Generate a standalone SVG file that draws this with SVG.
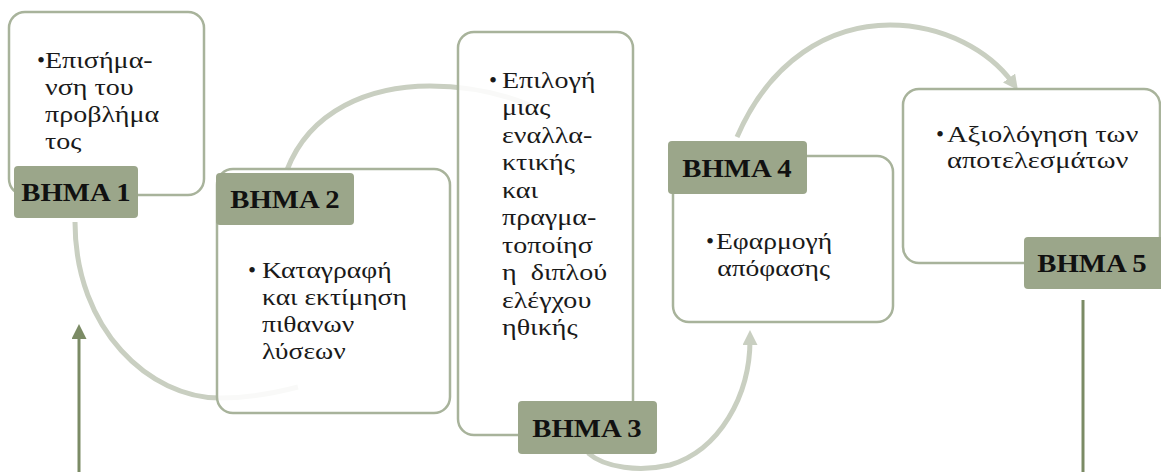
<svg xmlns="http://www.w3.org/2000/svg" width="1161" height="472" viewBox="0 0 1161 472">
<defs>
<style>
.box{fill:#ffffff;fill-opacity:0.88;stroke:#a8b39b;stroke-width:2.5}
.lbl{fill:#9ba68a}
.lt{font-family:'Liberation Serif','DejaVu Serif',serif;font-weight:bold;font-size:25px;fill:#111;text-anchor:middle}
.bt{font-family:'Liberation Serif','DejaVu Serif',serif;font-size:23px;fill:#1a1a1a}
.arc{fill:none;stroke:#c9cfc1;stroke-width:5}
.fb{fill:none;stroke:#7b8b65;stroke-width:3}
</style>
<marker id="ah" markerWidth="3" markerHeight="3" refX="1" refY="1.5" orient="auto" markerUnits="strokeWidth">
<path d="M0,0 L3,1.5 L0,3 Z" fill="#c9cfc1"/>
</marker>
<marker id="fa" markerWidth="5" markerHeight="5" refX="1" refY="2.5" orient="auto" markerUnits="strokeWidth">
<path d="M0,0 L5,2.5 L0,5 Z" fill="#7b8b65"/>
</marker>
</defs>
<g id="connectors">
<path class="arc" d="M75,222 C75,330 150,398 220,398 C250,398 275,393 298,387"/>
<path class="arc" d="M287,170 C310,110 370,86 430,86 C470,86 505,95 530,105"/>
<path class="arc" d="M588,453 C605,468 640,472 670,465 C720,450 750,395 750,340" marker-end="url(#ah)"/>
<path class="arc" d="M737,137 C770,60 830,25 890,25 C945,25 990,52 1012,82" marker-end="url(#ah)"/>
<path class="fb" d="M1083,300 L1083,472"/>
<path class="fb" d="M79,472 L79,336" marker-end="url(#fa)"/>
</g>
<g id="step1">
<rect class="box" x="9" y="12" width="195" height="183" rx="16"/>
<text class="bt" x="37" y="68">•</text>
<g transform="matrix(1.22 0 0 1 -9.9 0)">
<text class="bt" x="45" y="68">Επισήμα-</text>
<text class="bt" x="45" y="95">νση του</text>
<text class="bt" x="45" y="122">προβλήμα</text>
<text class="bt" x="45" y="149">τος</text>
</g>
<rect class="lbl" x="14" y="166" width="124" height="52" rx="4"/>
<text class="lt" x="76" y="201" transform="matrix(1.15 0 0 1 -11.4 0)">ΒΗΜΑ 1</text>
</g>
<g id="step2">
<rect class="box" x="217" y="169" width="233" height="244" rx="16"/>
<text class="bt" x="248" y="278">•</text>
<g transform="matrix(1.2 0 0 1 -52.4 0)">
<text class="bt" x="262" y="278">Καταγραφή</text>
<text class="bt" x="262" y="305">και εκτίμηση</text>
<text class="bt" x="262" y="332">πιθανων</text>
<text class="bt" x="262" y="359">λύσεων</text>
</g>
<rect class="lbl" x="216" y="173" width="138" height="52" rx="4"/>
<text class="lt" x="285" y="208" transform="matrix(1.15 0 0 1 -42.75 0)">ΒΗΜΑ 2</text>
</g>
<g id="step3">
<rect class="box" x="458" y="32" width="175" height="403" rx="16"/>
<text class="bt" x="489" y="88">•</text>
<g transform="matrix(1.22 0 0 1 -110.44 0)">
<text class="bt" x="502" y="88">Επιλογή</text>
<text class="bt" x="502" y="115.5">μιας</text>
<text class="bt" x="502" y="143">εναλλα-</text>
<text class="bt" x="502" y="170.5">κτικής</text>
<text class="bt" x="502" y="198">και</text>
<text class="bt" x="502" y="225.5">πραγμα-</text>
<text class="bt" x="502" y="253">τοποίησ</text>
<text class="bt" x="502" y="280.5" xml:space="preserve">η  διπλού</text>
<text class="bt" x="502" y="308">ελέγχου</text>
<text class="bt" x="502" y="335.5">ηθικής</text>
</g>
<rect class="lbl" x="518" y="401" width="139" height="53" rx="4"/>
<text class="lt" x="587" y="437" transform="matrix(1.15 0 0 1 -88.05 0)">ΒΗΜΑ 3</text>
</g>
<g id="step4">
<rect class="box" x="673" y="156" width="220" height="166" rx="16"/>
<text class="bt" x="706" y="249">•</text>
<g transform="matrix(1.2 0 0 1 -143.2 0)">
<text class="bt" x="716" y="249">Εφαρμογή</text>
<text class="bt" x="717" y="276">απόφασης</text>
</g>
<rect class="lbl" x="668" y="141" width="139" height="53" rx="4"/>
<text class="lt" x="737" y="177" transform="matrix(1.15 0 0 1 -110.55 0)">ΒΗΜΑ 4</text>
</g>
<g id="step5">
<rect class="box" x="903" y="89" width="257" height="174" rx="16"/>
<text class="bt" x="936" y="142">•</text>
<g transform="matrix(1.24 0 0 1 -227.28 0)">
<text class="bt" x="947" y="142">Αξιολόγηση των</text>
<text class="bt" x="947" y="168">αποτελεσμάτων</text>
</g>
<rect class="lbl" x="1024" y="237" width="140" height="52" rx="4"/>
<text class="lt" x="1092" y="272" transform="matrix(1.15 0 0 1 -163.8 0)">ΒΗΜΑ 5</text>
</g>
</svg>
